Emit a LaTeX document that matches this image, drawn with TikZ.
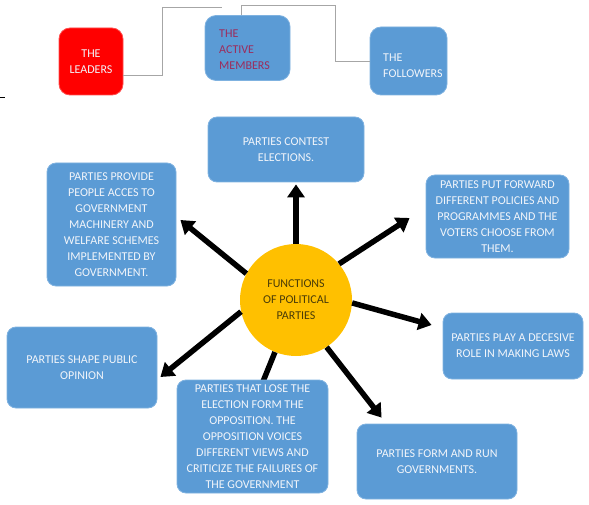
\documentclass[tikz,border=0pt]{standalone}
\usepackage{fontspec}
\setmainfont{Carlito}
\usepackage{xcolor}
\usepackage{tikz}
\usetikzlibrary{positioning, arrows.meta, calc}
\definecolor{boxblue}{HTML}{5B9BD5}
\definecolor{boxedge}{HTML}{7FB2E0}
\definecolor{leadred}{HTML}{FF0000}
\definecolor{leadedge}{HTML}{FF4D4D}
\definecolor{hubgold}{HTML}{FFC000}
\definecolor{hubtext}{HTML}{4A3C08}
\definecolor{membertext}{HTML}{9C2C5C}
\definecolor{boxtext}{HTML}{F2F5FA}

\tikzset{
  fnbox/.style={fill=boxblue, draw=boxedge, line width=0.8pt, rounded corners=9pt,
                text=boxtext, align=center, inner sep=0pt,
                font=\fontsize{12}{16}\selectfont},
  rolebox/.style={fnbox, rounded corners=11pt},
  link/.style={draw=gray!70, line width=0.9pt},
  bigarrow/.style={line width=5.5pt, -{Triangle[length=13pt,width=17pt]}}
}

\begin{document}
\begin{tikzpicture}[x=1pt, y=-1pt]
    \useasboundingbox (0,0) rectangle (589,505);

    % top row
    \node[rolebox, fill=leadred, draw=leadedge, minimum width=64pt, minimum height=67pt] (leaders) at (91,61.5) {THE\\LEADERS};
    \node[rolebox, minimum width=85pt, minimum height=65pt] (active) at (247.5,48) {};
    \node[anchor=north west, text=membertext, align=left, inner sep=0pt,
          font=\fontsize{12}{16}\selectfont] (activetext) at (219,30) {THE\\ACTIVE\\MEMBERS};
    \node[rolebox, minimum width=77pt, minimum height=68pt] (followers) at (408.5,61) {};
    \node[anchor=north west, text=boxtext, align=left, inner sep=0pt,
          font=\fontsize{12}{16}\selectfont] (followtext) at (383,54) {THE\\FOLLOWERS};

    \coordinate (lc) at (162,7);
    \coordinate (le) at (222,7);
    \coordinate (fc) at (335,5);
    \draw[link] ([yshift=-13.5pt]leaders.east) -| (lc) -- (le);
    \draw[link] ([xshift=-6.5pt]active.north) |- (fc) |- (followers.west);
    \draw[line width=0.8pt] (0,97) -- (5,97);

    % hub
    \node[circle, fill=hubgold, minimum size=112pt, inner sep=0pt, text=hubtext, align=center,
          font=\fontsize{12}{16}\selectfont] (hub) at (296,300) {FUNCTIONS\\OF POLITICAL\\PARTIES};

    % functions
    \node[fnbox, minimum width=156pt, minimum height=65pt] (contest) at (286,149.5) {PARTIES CONTEST\\ELECTIONS.};
    \node[fnbox, minimum width=129pt, minimum height=123pt] (access) at (111.5,224.5)
      {PARTIES PROVIDE\\PEOPLE ACCES TO\\GOVERNMENT\\MACHINERY AND\\WELFARE SCHEMES\\IMPLEMENTED BY\\GOVERNMENT.};
    \node[fnbox, minimum width=143pt, minimum height=83pt] (forward) at (497.5,216.5)
      {PARTIES PUT FORWARD\\DIFFERENT POLICIES AND\\PROGRAMMES AND THE\\VOTERS CHOOSE FROM\\THEM.};
    \node[fnbox, minimum width=140pt, minimum height=66pt] (laws) at (513,346) {PARTIES PLAY A DECESIVE\\ROLE IN MAKING LAWS};
    \node[fnbox, minimum width=160pt, minimum height=75pt] (run) at (437,461.5) {PARTIES FORM AND RUN\\GOVERNMENTS.};
    \node[fnbox, minimum width=150pt, minimum height=81pt] (opinion) at (82,367.5) {PARTIES SHAPE PUBLIC\\OPINION};

    % arrows
    \draw[bigarrow] (hub.north) -- ($(hub.north|-contest.south)+(0,2)$);
    \draw[bigarrow] (hub.152) -- ($(access.east)+(4,-4.5)$);
    \draw[bigarrow] (hub.40) -- ($(forward.west)+(-16,1.5)$);
    \draw[bigarrow] (hub.-3) -- ($(laws.west)+(-11,-21)$);
    \draw[bigarrow] (hub.-57) -- ($(run.north west)+(25,-6)$);
    \draw[bigarrow] (hub.-168) -- ($(opinion.east)+(3,9.5)$);
    \draw[line width=5.5pt] (hub.-112) -- (262,384);

    \node[fnbox, minimum width=151pt, minimum height=113pt] (opposition) at (252.5,436.5)
      {PARTIES THAT LOSE THE\\ELECTION FORM THE\\OPPOSITION. THE\\OPPOSITION VOICES\\DIFFERENT VIEWS AND\\CRITICIZE THE FAILURES OF\\THE GOVERNMENT};
  \end{tikzpicture}
\end{document}
